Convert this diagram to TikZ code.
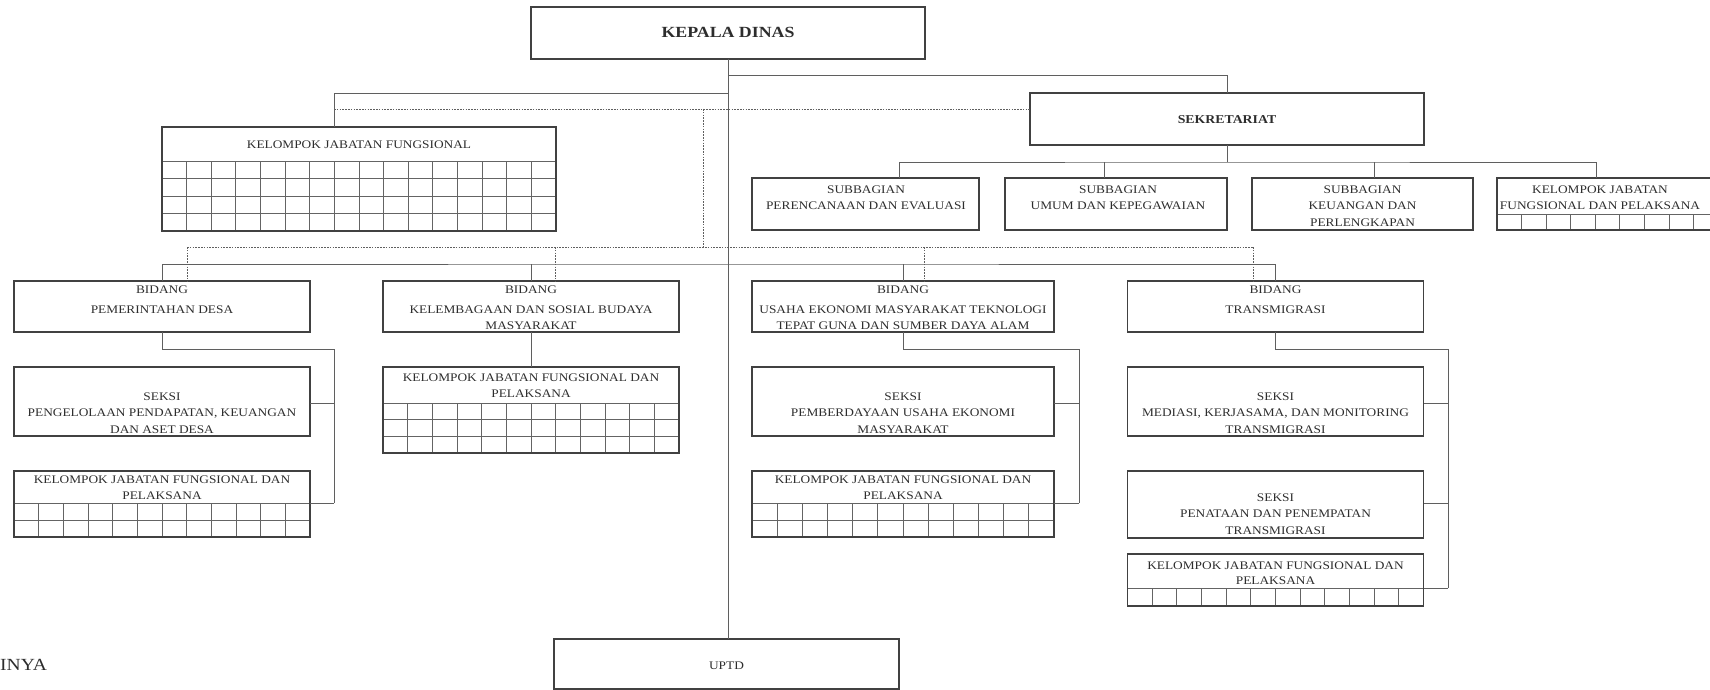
\documentclass[tikz,border=0pt]{standalone}
\usepackage{fontspec}
\setmainfont{Liberation Serif}[FakeStretch=1.15]
\usetikzlibrary{calc}
\definecolor{ink}{RGB}{45,45,45}
\definecolor{boxc}{RGB}{65,65,65}
\definecolor{linec}{RGB}{95,95,95}
\definecolor{gridc}{RGB}{100,100,100}
\newcommand\mkbox[5]{\node[box, minimum width={#4-#2}, minimum height={#5-#3}] (#1) at ({(#2+#4)/2},{(#3+#5)/2}) {};}
\newcommand\mkgrid[6]{% x1, x2, header y, bottom y, ncols, extra row lines
  \foreach \ii in {1,...,#5} {\pgfmathsetmacro\xx{#1+\ii*(#2-#1)/(#5)}\draw[gridl] (\xx,#3) -- (\xx,#4);}
  \foreach \yy in {#3,#6} {\draw[gridl] (#1,\yy) -- (#2,\yy);}
}
\begin{document}
\begin{tikzpicture}[x=1pt,y=-1pt,
  box/.style={draw=boxc, line width=1.6pt, inner sep=0pt, outer sep=0pt},
  conn/.style={draw=linec, line width=0.9pt},
  dotc/.style={draw=linec, line width=0.8pt, dash pattern=on 1.6pt off 1.2pt},
  gridl/.style={draw=gridc, line width=0.8pt},
  txt/.style={text=ink, font=\fontsize{11.6}{16.5}\selectfont, align=center, inner sep=0pt, anchor=base},
]
\useasboundingbox (0,0) rectangle (1710,690);
\clip (0,0) rectangle (1710,690);

% ---------- grids (under the boxes) ----------
\mkgrid{162}{556}{161}{231}{16}{178,196,213}
\mkgrid{1497}{1718}{214}{230}{9}{214}
\mkgrid{14}{310}{503}{537}{12}{520}
\mkgrid{383}{679}{403}{453}{12}{419,436}
\mkgrid{752}{1054}{503}{537}{12}{520}
\mkgrid{1127.5}{1423.5}{588}{606}{12}{588}

% ---------- boxes ----------
\mkbox{kd}{531}{7}{925}{59}
\mkbox{kjf0}{162}{127}{556}{231}
\mkbox{sek}{1030}{93}{1424}{145}
\mkbox{sb1}{752}{178}{979}{230}
\mkbox{sb2}{1005}{178}{1227}{230}
\mkbox{sb3}{1252}{178}{1473}{230}
\mkbox{sb4}{1497}{178}{1718}{230}
\mkbox{bd1}{14}{281}{310}{332}
\mkbox{bd2}{383}{281}{679}{332}
\mkbox{bd3}{752}{281}{1054}{332}
\mkbox{bd4}{1127.5}{281}{1423.5}{332}
\mkbox{ps1}{14}{367}{310}{436}
\mkbox{pk1}{14}{471}{310}{537}
\mkbox{kk}{383}{367}{679}{453}
\mkbox{us1}{752}{367}{1054}{436}
\mkbox{uk1}{752}{471}{1054}{537}
\mkbox{ts1}{1127.5}{367}{1423.5}{436}
\mkbox{ts2}{1127.5}{471}{1423.5}{538}
\mkbox{tk1}{1127.5}{554}{1423.5}{606}
\mkbox{uptd}{554}{639}{899}{689}

% ---------- texts (anchor = baseline of the last line) ----------
\node[txt] (t-kd) at (728,37.5) {\bfseries\fontsize{15.5}{18}\selectfont KEPALA DINAS};
\node[txt] (t-kjf0) at (359,149) {KELOMPOK JABATAN FUNGSIONAL};
\node[txt] (t-sek) at (1227,124) {\bfseries\fontsize{12}{16}\selectfont SEKRETARIAT};
\node[txt] (t-sb1) at (866,209.5) {SUBBAGIAN\\PERENCANAAN DAN EVALUASI};
\node[txt] (t-sb2) at (1118,209.5) {SUBBAGIAN\\UMUM DAN KEPEGAWAIAN};
\node[txt] (t-sb3) at (1362.5,226) {SUBBAGIAN\\KEUANGAN DAN\\PERLENGKAPAN};
\node[txt] (t-sb4) at (1600,209.5) {KELOMPOK JABATAN\\FUNGSIONAL DAN PELAKSANA};
\node[txt] (t-bd1) at (162,313) {BIDANG\\[3.5pt]PEMERINTAHAN DESA};
\node[txt] (t-bd2) at (531,329.5) {BIDANG\\[3.5pt]KELEMBAGAAN DAN SOSIAL BUDAYA\\MASYARAKAT};
\node[txt] (t-bd3) at (903,329.5) {BIDANG\\[3.5pt]USAHA EKONOMI MASYARAKAT TEKNOLOGI\\TEPAT GUNA DAN SUMBER DAYA ALAM};
\node[txt] (t-bd4) at (1275.5,313) {BIDANG\\[3.5pt]TRANSMIGRASI};
\node[txt] (t-ps1) at (162,433) {SEKSI\\PENGELOLAAN PENDAPATAN, KEUANGAN\\DAN ASET DESA};
\node[txt] (t-pk1) at (162,499.5) {KELOMPOK JABATAN FUNGSIONAL DAN\\PELAKSANA};
\node[txt] (t-kk) at (531,397.5) {KELOMPOK JABATAN FUNGSIONAL DAN\\PELAKSANA};
\node[txt] (t-us1) at (903,433) {SEKSI\\PEMBERDAYAAN USAHA EKONOMI\\MASYARAKAT};
\node[txt] (t-uk1) at (903,499.5) {KELOMPOK JABATAN FUNGSIONAL DAN\\PELAKSANA};
\node[txt] (t-ts1) at (1275.5,433) {SEKSI\\MEDIASI, KERJASAMA, DAN MONITORING\\TRANSMIGRASI};
\node[txt] (t-ts2) at (1275.5,534) {SEKSI\\PENATAAN DAN PENEMPATAN\\TRANSMIGRASI};
\node[txt] (t-tk1) at (1275.5,584.5) {KELOMPOK JABATAN FUNGSIONAL DAN\\[-1pt]PELAKSANA};
\node[txt] (t-uptd) at (726.5,669) {UPTD};
\node[txt, anchor=base west] (t-inya) at (0,670.5) {\fontsize{17}{20}\selectfont INYA};

% ---------- junction coordinates ----------
\coordinate (jsek) at (728,75);
\coordinate (jkjf) at (728,93);
\coordinate (k0top) at (334,127);
\coordinate (d1) at (334,109);
\coordinate (d2) at (1030,109);
\coordinate (d3) at (703,109);
\coordinate (d4) at (703,247);
\coordinate (dl) at (187,247);
\coordinate (dr) at (1253,247);
\coordinate (bus) at (728,264);
\coordinate (sbus) at (1227,162);
\coordinate (sb1in) at (899,178);
\coordinate (sb2in) at (1104,178);
\coordinate (sb3in) at (1374,178);
\coordinate (sb4in) at (1596,178);
\coordinate (p1) at (334,349);
\coordinate (p2) at (334,403);
\coordinate (p3) at (334,503);
\coordinate (u1) at (1079,349);
\coordinate (u2) at (1079,403);
\coordinate (u3) at (1079,503);
\coordinate (t1) at (1448,349);
\coordinate (t2) at (1448,403);
\coordinate (t3) at (1448,503);
\coordinate (t4) at (1448,588);

% ---------- solid connectors ----------
\draw[conn] (kd.south) -- (kd.south |- uptd.north);
\draw[conn] (jsek) -| (sek.north);
\draw[conn] (jkjf) -| (k0top);
\draw[conn] (sek.south) -- (sbus);
\draw[conn] (sb1in) |- (sbus) -| (sb4in);
\draw[conn] (sb2in) -- (sb2in |- sbus);
\draw[conn] (sb3in) -- (sb3in |- sbus);
\draw[conn] (bd1.north) |- (bus) -| (bd4.north);
\draw[conn] (bd2.north) -- (bd2.north |- bus);
\draw[conn] (bd3.north) -- (bd3.north |- bus);
\draw[conn] (bd1.south) |- (p1) -- (p3);
\draw[conn] (p2) -- (p2 -| ps1.east);
\draw[conn] (p3) -- (p3 -| pk1.east);
\draw[conn] (bd2.south) -- (kk.north);
\draw[conn] (bd3.south) |- (u1) -- (u3);
\draw[conn] (u2) -- (u2 -| us1.east);
\draw[conn] (u3) -- (u3 -| uk1.east);
\draw[conn] (bd4.south) |- (t1) -- (t4);
\draw[conn] (t2) -- (t2 -| ts1.east);
\draw[conn] (t3) -- (t3 -| ts2.east);
\draw[conn] (t4) -- (t4 -| tk1.east);

% ---------- dotted connectors ----------
\draw[dotc] (d1) -- (d2);
\draw[dotc] (d3) -- (d4);
\draw[dotc] (dl) -- (dr);
\draw[dotc] (dl) -- (dl |- bd1.north);
\draw[dotc] (dl -| 555,0) -- (555,281);
\draw[dotc] (dl -| 924,0) -- (924,281);
\draw[dotc] (dr) -- (dr |- bd4.north);
\end{tikzpicture}
\end{document}
